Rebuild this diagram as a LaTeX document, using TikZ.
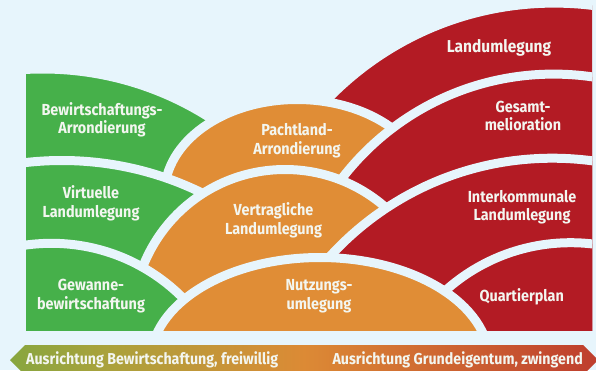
\documentclass[tikz,border=0pt]{standalone}
\usepackage{fontspec}
\setmainfont{Fira Sans}[FakeStretch=0.9]
\usepackage{xcolor}
\definecolor{skyBg}{HTML}{E7F5FC}
\definecolor{fieldGreen}{HTML}{46B04A}
\definecolor{fieldOrange}{HTML}{E08D36}
\definecolor{fieldRed}{HTML}{B31B24}
\definecolor{labelWhite}{HTML}{F3F6F0}
\definecolor{aimGreen}{HTML}{5DAB44}
\definecolor{aimOlive}{HTML}{A9A23C}
\definecolor{aimOrange}{HTML}{DC8A35}
\definecolor{aimRed}{HTML}{B4242B}
\usepackage{tikz}
\usetikzlibrary{shapes,calc}
\pgfdeclarehorizontalshading{aimShade}{100bp}{%
  color(0bp)=(aimGreen); color(15bp)=(aimGreen); color(33bp)=(aimOlive);
  color(50bp)=(aimOrange); color(75bp)=(aimRed!75!aimOrange); color(100bp)=(aimRed)}
\tikzset{%
  fieldShape/.style={%
    draw=skyBg,
    line width=9pt
  },
  greenField/.style={%
    fieldShape,
    fill=fieldGreen
  },
  orangeField/.style={%
    fieldShape,
    fill=fieldOrange
  },
  redField/.style={%
    fieldShape,
    fill=fieldRed
  },
  fieldLabel/.style={%
    text=labelWhite,
    font=\bfseries\fontsize{16}{18.5}\selectfont,
    align=center,
    inner sep=0pt
  },
  aimBar/.style={%
    shading=aimShade
  }
}

\begin{document}
\begin{tikzpicture}[x=1pt,y=-1pt]
  \useasboundingbox (0,0) rectangle (596,370);
  \fill[skyBg] (0,0) rectangle (596,370);

  \begin{scope}
    \clip (26,0) rectangle (592,330);
    \filldraw[greenField] (42.5,380.5) circle[radius=311.5];
    \filldraw[redField] (554.2,318.4) circle[radius=315.3];
    \filldraw[orangeField] (297,194) ellipse[x radius=132.5,y radius=94.5];
    \filldraw[greenField] (61.9,478.7) circle[radius=318.2];
    \filldraw[redField] (553.6,341) circle[radius=266.9];
    \filldraw[orangeField] (285,322) circle[radius=152.5];
    \filldraw[greenField] (51.4,428.8) circle[radius=185.5];
    \filldraw[redField] (552.3,459) circle[radius=300.8];
    \filldraw[redField] (570.7,430.6) circle[radius=187.9];
    \filldraw[orangeField] (320,362) ellipse[x radius=169.5,y radius=104.5];
  \end{scope}

  \node[fieldLabel] (bewirtschaftung) at (102,120) {Bewirtschaftungs-\\Arrondierung};
  \node[fieldLabel] (virtuell) at (91,203.5) {Virtuelle\\Landumlegung};
  \node[fieldLabel] (gewanne) at (91,296) {Gewanne-\\bewirtschaftung};
  \node[fieldLabel] (pachtland) at (297,140.5) {Pachtland-\\Arrondierung};
  \node[fieldLabel] (vertraglich) at (273.5,220.5) {Vertragliche\\Landumlegung};
  \node[fieldLabel] (nutzung) at (319,296) {Nutzungs-\\umlegung};
  \node[fieldLabel, font=\bfseries\fontsize{17.2}{21}\selectfont] (landumlegung) at (499,48) {Landumlegung};
  \node[fieldLabel] (gesamt) at (523,116) {Gesamt-\\melioration};
  \node[fieldLabel] (interkommunal) at (522,207) {Interkommunale\\Landumlegung};
  \node[fieldLabel] (quartier) at (521.7,297) {Quartierplan};

  \shade[aimBar] (10,360) -- (25,345) -- (583,345) -- (598,360) -- (583,375) -- (25,375) -- cycle;
  \node[fieldLabel, font=\bfseries\fontsize{15.8}{18.5}\selectfont, anchor=base west] (freiwillig) at (26,364.5) {Ausrichtung Bewirtschaftung, freiwillig};
  \node[fieldLabel, font=\bfseries\fontsize{15.8}{18.5}\selectfont, anchor=base east] (zwingend) at (583,364.5) {Ausrichtung Grundeigentum, zwingend};
\end{tikzpicture}
\end{document}
